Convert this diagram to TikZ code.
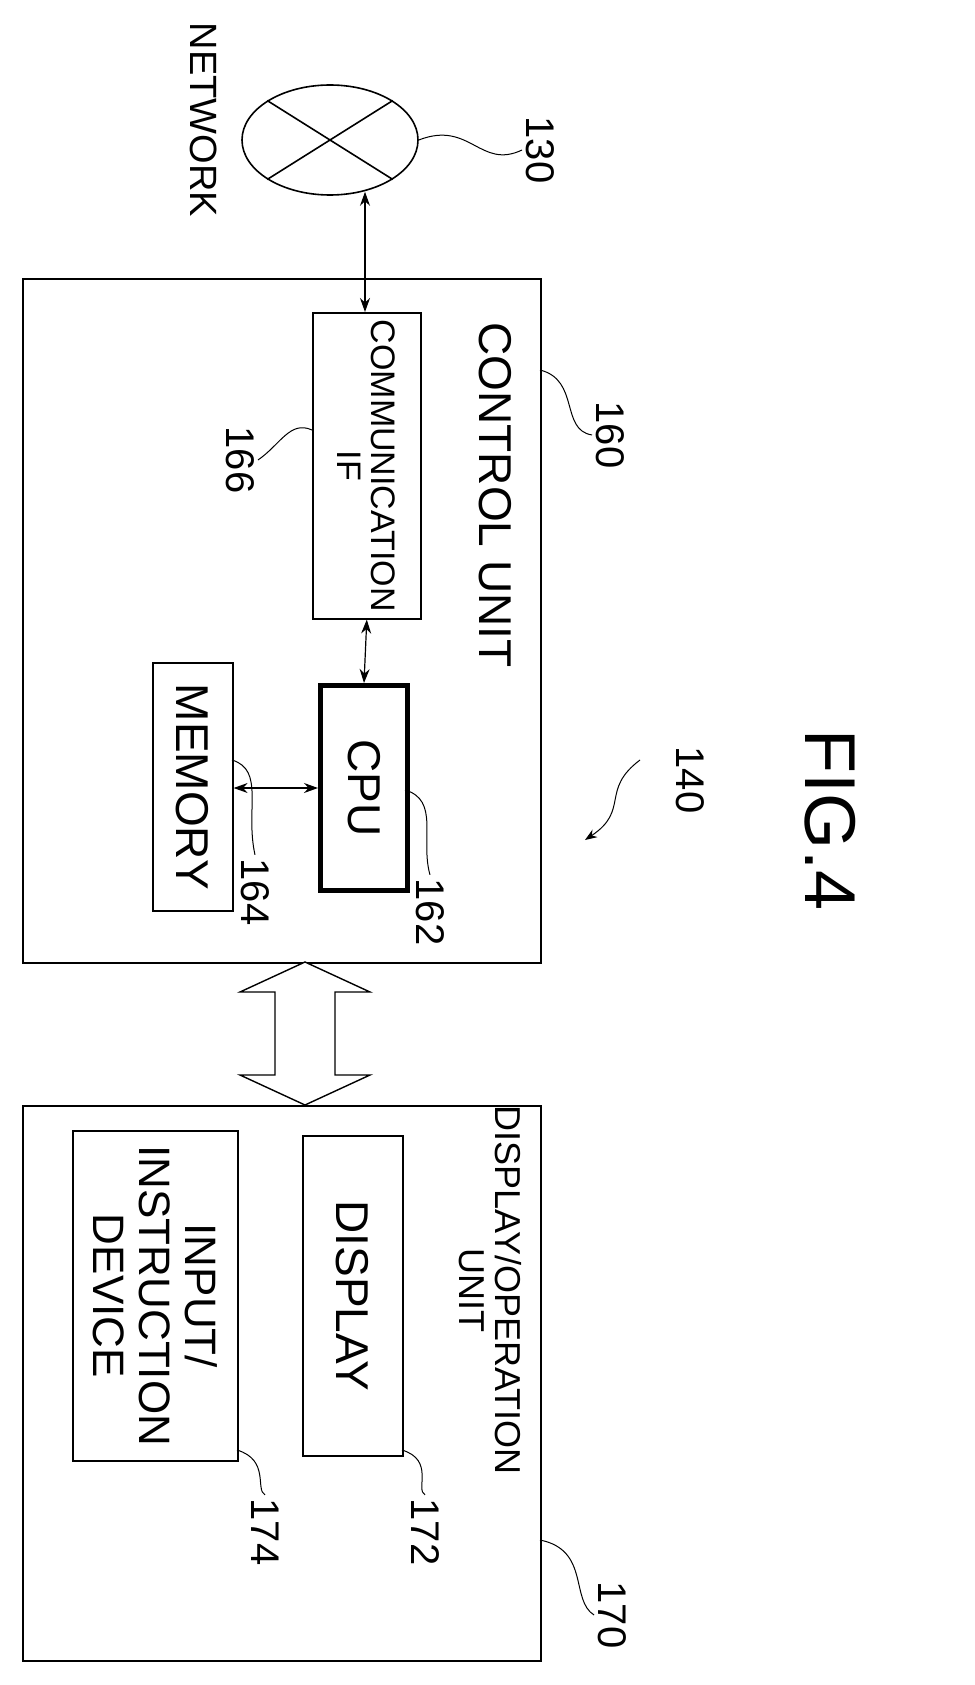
\documentclass[tikz,border=0pt]{standalone}
\usepackage{fontspec}
\setmainfont{Liberation Sans}
\usetikzlibrary{shapes.geometric,arrows.meta}
\begin{document}
\begin{tikzpicture}[x=1pt,y=-1pt,line width=1.6pt,
 lbl/.style={rotate=-90,font=\fontsize{46}{48}\selectfont,inner sep=0},
 sm/.style={rotate=-90,font=\fontsize{34}{34}\selectfont,inner sep=0,align=center},
 num/.style={rotate=-90,font=\fontsize{40}{42}\selectfont,inner sep=3pt},
 lead/.style={line width=1pt},
 arr/.style={{Stealth[length=14pt,width=10pt]}-{Stealth[length=14pt,width=10pt]},line width=1.2pt}]
\useasboundingbox (0,0) rectangle (974,1685);
% network
\node[ellipse,draw,minimum width=176,minimum height=110] (net) at (330,140) {};
\draw (net.north west) -- (net.south east) (net.north east) -- (net.south west);
\node[lbl,font=\fontsize{38}{40}\selectfont,anchor=north west] (netl) at (218,22) {NETWORK};
\node[num] (n130) at (540,150) {130};
\draw[lead] (net.east) .. controls (470,120) and (480,170) .. (n130.south);
% control unit
\node[draw,minimum width=518,minimum height=684,anchor=north west] (cu) at (22,278) {};
\node[lbl] (cul) at (495,495) {CONTROL UNIT};
\node[num] (n160) at (610,435) {160};
\draw[lead] (540,370) .. controls (580,380) and (560,430) .. (n160.south);
\node[draw,minimum width=108,minimum height=306,anchor=north west] (cif) at (312,312) {};
\node[sm] (cifl) at (cif.center) {COMMUNICATION\\IF};
\node[num] (n166) at (240,460) {166};
\draw[lead] (312,430) .. controls (290,420) and (280,445) .. (n166.north);
\draw[arr] (net.south) ++(35,-4) coordinate (na) -- (na |- cif.north);
\node[draw,line width=5pt,minimum width=87,minimum height=205,anchor=north west] (cpu) at (318,683) {};
\node[lbl] (cpul) at (cpu.center) {CPU};
\draw[arr] (cif.south) -- (cpu.north);
\node[num] (n162) at (430,912) {162};
\draw[lead] (405,790) .. controls (440,800) and (420,840) .. (n162.west);
\node[draw,minimum width=80,minimum height=248,anchor=north west] (mem) at (152,662) {};
\node[lbl] (meml) at (mem.center) {MEMORY};
\node[num] (n164) at (255,892) {164};
\draw[lead] (232,760) .. controls (265,770) and (245,810) .. (n164.west);
\draw[arr] (mem.east |- cpu.center) -- (cpu.west);
\node[num] (n140) at (690,780) {140};
\draw[lead,-{Stealth[length=12pt]}] (640,760) .. controls (600,790) and (630,810) .. (585,840);
\node[rotate=-90,font=\fontsize{72}{74}\selectfont,inner sep=0] (fig) at (830,820) {FIG.4};
% display/operation unit
\node[draw,minimum width=518,minimum height=555,anchor=north west] (dou) at (22,1105) {};
\node[sm,font=\fontsize{36}{36}\selectfont] (doul) at (490,1290) {DISPLAY/OPERATION\\UNIT};
\node[num] (n170) at (612,1615) {170};
\draw[lead] (540,1540) .. controls (590,1550) and (570,1600) .. (n170.south);
\node[draw,minimum width=100,minimum height=320,anchor=north west] (disp) at (302,1135) {};
\node[lbl] (displ) at (disp.center) {DISPLAY};
\node[num] (n172) at (425,1532) {172};
\draw[lead] (402,1450) .. controls (435,1460) and (415,1490) .. (n172.west);
\node[draw,minimum width=165,minimum height=330,anchor=north west] (inp) at (72,1130) {};
\node[sm,font=\fontsize{44}{46}\selectfont] (inpl) at (inp.center) {INPUT/\\INSTRUCTION\\DEVICE};
\node[num] (n174) at (265,1532) {174};
\draw[lead] (237,1450) .. controls (270,1460) and (255,1490) .. (n174.west);
% big hollow arrow
\draw[line width=1.4pt,fill=white] (305,962) coordinate (ha) -- (240,992) -- (275,992) -- (275,1075) -- (240,1075) -- (305,1105) -- (370,1075) -- (335,1075) -- (335,992) -- (370,992) -- cycle;
\end{tikzpicture}
\end{document}
